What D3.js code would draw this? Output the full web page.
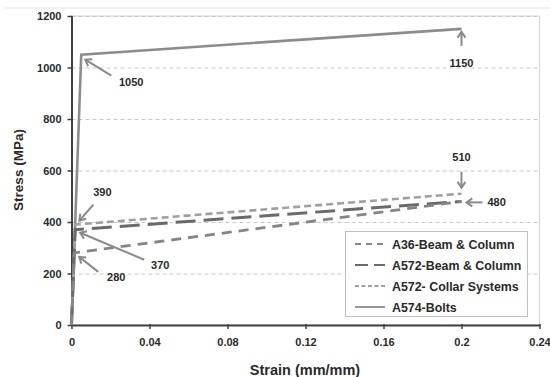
<!DOCTYPE html>
<html><head><meta charset="utf-8">
<script src="https://cdn.jsdelivr.net/npm/d3@7"></script>
<style>body{margin:0;background:#fff;}svg{display:block;font-family:Arial,"Liberation Sans",sans-serif;}</style>
</head><body>
<script>
// ---- data ----
const strainTicks = [0, 0.04, 0.08, 0.12, 0.16, 0.2, 0.24];
const stressTicks = [0, 200, 400, 600, 800, 1000, 1200];
const seriesNames = ["A36-Beam & Column", "A572-Beam & Column", "A572- Collar Systems", "A574-Bolts"];
const a36Strain = [0, 0.0014, 0.2];
const a36Stress = [0, 280, 480];
const a572bcStrain = [0, 0.0019, 0.2];
const a572bcStress = [0, 370, 480];
const a572csStrain = [0, 0.002, 0.2];
const a572csStress = [0, 390, 510];
const a574Strain = [0, 0.005, 0.2];
const a574Stress = [0, 1050, 1150];
const annotLabels = ["1050", "1150", "510", "480", "390", "370", "280"];
const annotStrain = [0.005, 0.2, 0.2, 0.2, 0.002, 0.0019, 0.0014];
const annotStress = [1050, 1150, 510, 480, 390, 370, 280];

const W = 550, H = 377;
const svg = d3.select("body").append("svg").attr("width", W).attr("height", H);
const x = d3.scaleLinear().domain([0, 0.24]).range([71.5, 539.5]);
const y = d3.scaleLinear().domain([0, 1200]).range([325, 16]);

// outer top border
svg.append("line").attr("x1", 5).attr("x2", 550).attr("y1", 8).attr("y2", 8)
  .attr("stroke", "#e2e2e2").attr("stroke-width", 1);

// plot border
svg.append("rect").attr("x", x(0)).attr("y", y(1200)).attr("width", x(0.24) - x(0)).attr("height", y(0) - y(1200))
  .attr("fill", "none").attr("stroke", "#d4d4d4").attr("stroke-width", 1);

// gridlines
svg.append("g").selectAll("line").data(stressTicks.filter(d => d > 0)).join("line")
  .attr("x1", x(0)).attr("x2", x(0.24)).attr("y1", d => y(d) + 0.5).attr("y2", d => y(d) + 0.5)
  .attr("stroke", "#c8c8c8").attr("stroke-width", 1).attr("stroke-dasharray", "4,3");

// axes
const yAxis = d3.axisLeft(y).tickValues(stressTicks).tickFormat(d3.format("d")).tickSizeInner(4).tickSizeOuter(0).tickPadding(6);
const gy = svg.append("g").attr("transform", `translate(${x(0)},0)`).call(yAxis);
gy.select(".domain").attr("stroke", "#404040").attr("stroke-width", 2);
gy.selectAll(".tick line").attr("stroke", "#404040").attr("stroke-width", 1.5).attr("x2", -4).attr("x1", 1);
gy.selectAll("text").attr("font-size", 11).attr("font-weight", "bold").attr("fill", "#2a2a2a");

const xAxis = d3.axisBottom(x).tickValues(strainTicks).tickFormat(d => d === 0 ? "0" : String(+d.toFixed(2))).tickSizeInner(4).tickSizeOuter(0).tickPadding(9);
const gx = svg.append("g").attr("transform", `translate(0,${y(0)})`).call(xAxis);
gx.select(".domain").attr("stroke", "#404040").attr("stroke-width", 2);
gx.selectAll(".tick line").attr("stroke", "#404040").attr("stroke-width", 1.5).attr("y1", -1);
gx.selectAll("text").attr("font-size", 11).attr("font-weight", "bold").attr("fill", "#2a2a2a");

// axis titles
svg.append("text").attr("x", 305).attr("y", 375).attr("text-anchor", "middle")
  .attr("font-size", 14.5).attr("font-weight", "bold").attr("fill", "#2a2a2a").text("Strain (mm/mm)");
svg.append("text").attr("transform", "translate(23,170) rotate(-90)").attr("text-anchor", "middle")
  .attr("font-size", 13.5).attr("font-weight", "bold").attr("fill", "#2a2a2a").text("Stress (MPa)");

// series
const styles = [
  {color: "#858585", dash: "10,7", w: 2.8},
  {color: "#6a6a6a", dash: "20,8", w: 3},
  {color: "#a0a0a0", dash: "7,4", w: 2.6},
  {color: "#8c8c8c", dash: null, w: 2.6}
];
const series = [
  [a36Strain, a36Stress], [a572bcStrain, a572bcStress], [a572csStrain, a572csStress], [a574Strain, a574Stress]
];
const line = d3.line().x(d => x(d[0])).y(d => y(d[1]));
[3, 2, 1, 0].forEach(i => {
  const pts = series[i][0].map((s, k) => [s, series[i][1][k]]);
  const p = svg.append("path").attr("d", line(pts)).attr("fill", "none")
    .attr("stroke", styles[i].color).attr("stroke-width", styles[i].w).attr("stroke-linejoin", "miter");
  if (styles[i].dash) p.attr("stroke-dasharray", styles[i].dash);
});

// annotations: tip offsets (px) from the data point, tail offset from tip, label position offset from tip
const tipOff = [[4, 5], [0, 3], [0, -6], [5, 1], [4, -4], [5, 3], [5, 4]];
const tailOff = [[26, 16], [0, 14], [0, -16], [16, 0], [14, -16], [64, 27], [19, 15]];
const labelOff = [[46, 26, "middle"], [0, 35, "middle"], [0, -27, "middle"], [21, 4, "start"], [23, -25, "middle"], [80, 36, "middle"], [37, 24, "middle"]];
const ag = svg.append("g");
annotLabels.forEach((lab, i) => {
  const tx = x(annotStrain[i]) + tipOff[i][0], ty = y(annotStress[i]) + tipOff[i][1];
  const sx = tx + tailOff[i][0], sy = ty + tailOff[i][1];
  const ang = Math.atan2(sy - ty, sx - tx);
  const L = 7, a = 0.6;
  ag.append("line").attr("x1", sx).attr("y1", sy).attr("x2", tx).attr("y2", ty)
    .attr("stroke", "#8a8a8a").attr("stroke-width", 2);
  ag.append("path").attr("d", `M${tx + L * Math.cos(ang + a)},${ty + L * Math.sin(ang + a)} L${tx},${ty} L${tx + L * Math.cos(ang - a)},${ty + L * Math.sin(ang - a)}`)
    .attr("fill", "none").attr("stroke", "#8a8a8a").attr("stroke-width", 2);
  ag.append("text").attr("x", tx + labelOff[i][0]).attr("y", ty + labelOff[i][1]).attr("text-anchor", labelOff[i][2])
    .attr("font-size", 11).attr("font-weight", "bold").attr("fill", "#2a2a2a").text(lab);
});

// legend
const lg = svg.append("g");
lg.append("rect").attr("x", 345.5).attr("y", 231.5).attr("width", 182).attr("height", 85)
  .attr("fill", "#fff").attr("stroke", "#c0c0c0").attr("stroke-width", 1);
const legDash = ["6,5", "13,6", "4,2.5", null];
seriesNames.forEach((n, i) => {
  const yy = 244 + i * 21;
  const l = lg.append("line").attr("x1", 355).attr("x2", 385).attr("y1", yy).attr("y2", yy)
    .attr("stroke", styles[i].color).attr("stroke-width", 1.8);
  if (legDash[i]) l.attr("stroke-dasharray", legDash[i]);
  lg.append("text").attr("x", 392).attr("y", yy + 4.5).attr("font-size", 12.4).attr("font-weight", "bold")
    .attr("fill", "#2a2a2a").text(n);
});
</script>
</body></html>
